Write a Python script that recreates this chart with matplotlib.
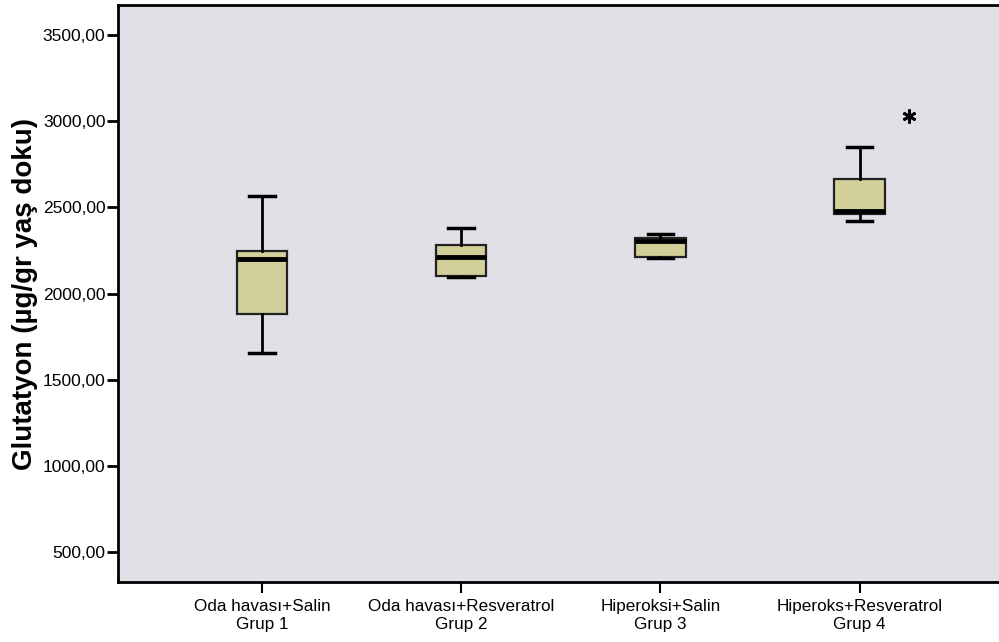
import matplotlib.pyplot as plt
import numpy as np

plt.rcParams['font.family'] = ['Liberation Sans', 'DejaVu Sans']

groups = ["Oda havası+Salin\nGrup 1", "Oda havası+Resveratrol\nGrup 2",
          "Hiperoksi+Salin\nGrup 3", "Hiperoks+Resveratrol\nGrup 4"]
whisker_low = [1657, 2098, 2207, 2424]
q1 = [1884, 2104, 2210, 2460]
median = [2203, 2211, 2307, 2479]
q3 = [2245, 2281, 2320, 2664]
whisker_high = [2565, 2380, 2346, 2848]
extreme_value = 3030  # extreme case in group 4

yticks = [500, 1000, 1500, 2000, 2500, 3000, 3500]

stats = []
for i in range(len(groups)):
    stats.append({"whislo": whisker_low[i], "q1": q1[i], "med": median[i],
                  "q3": q3[i], "whishi": whisker_high[i], "fliers": []})

fig = plt.figure(figsize=(9.99, 6.42), dpi=100)
ax = fig.add_axes([0.118, 0.0935, 0.882, 0.8985])
ax.set_facecolor('#E1E0E6')

pos = np.arange(1, len(groups) + 1)
ax.bxp(stats, positions=pos, widths=0.254, patch_artist=True,
       boxprops=dict(facecolor='#D3CF9A', edgecolor='#222222', linewidth=1.6),
       medianprops=dict(color='black', linewidth=3.5, solid_capstyle='butt'),
       whiskerprops=dict(color='black', linewidth=2),
       capprops=dict(color='black', linewidth=2.5),
       capwidths=0.127)

ax.plot([pos[3] + 0.25], [extreme_value], linestyle='none', marker=(6, 2, 0),
        markersize=10, markeredgewidth=2, color='black')

ax.set_xlim(0.277, 4.70)
ax.set_ylim(326, 3674)
ax.set_xticks(pos)
ax.set_xticklabels(groups, fontsize=12.3, linespacing=1.25)
ax.set_yticks(yticks)
ax.set_yticklabels([f"{v},00" for v in yticks], fontsize=12.5)
ax.tick_params(axis='y', length=8, width=2, pad=1)
ax.tick_params(axis='x', length=8, width=1.5, pad=4)

ax.set_ylabel("Glutatyon (µg/gr yaş doku)", fontsize=20, fontweight='bold', labelpad=3)

for side in ['left', 'bottom', 'top']:
    ax.spines[side].set_color('black')
    ax.spines[side].set_linewidth(2)
ax.spines['right'].set_visible(False)

fig.savefig('out.png', dpi=100)
